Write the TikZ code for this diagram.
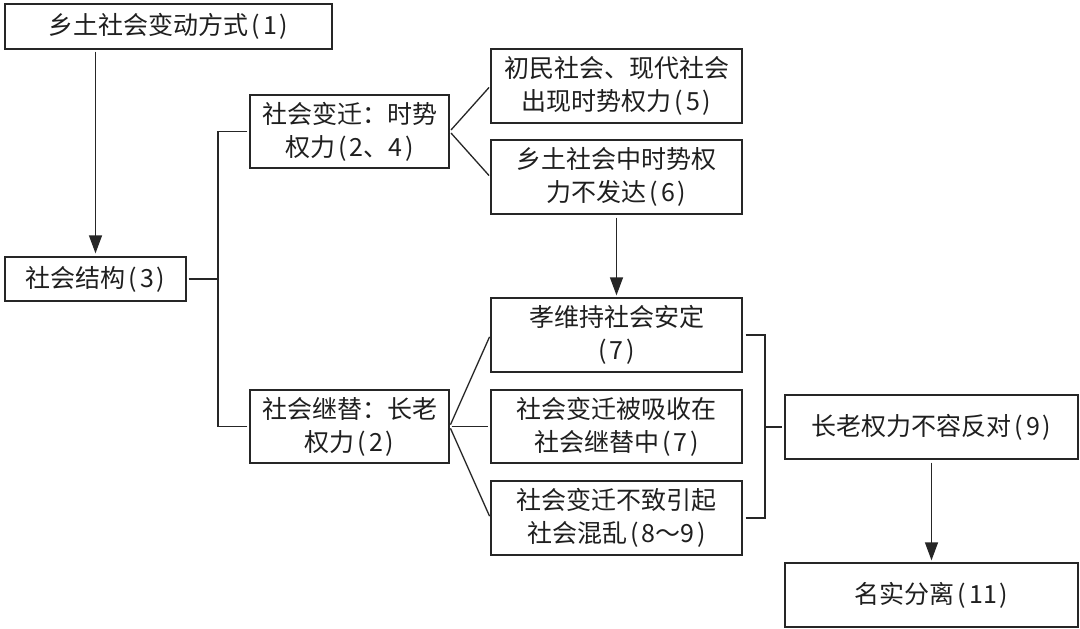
\documentclass[tikz,border=0pt]{standalone}
\usepackage{fontspec}
\setmainfont{Noto Sans CJK SC}
\usetikzlibrary{arrows.meta,calc}
\definecolor{ln}{HTML}{262626}
\newcommand{\pr}[1]{\hspace{3pt}(\hspace{3pt}#1\hspace{3pt})}
\tikzset{
  box/.style={draw=ln, line width=1.3pt, rectangle, inner sep=0pt, align=center,
    font=\fontsize{25}{33}\selectfont, text=black!88},
  conn/.style={draw=ln, line width=1.3pt},
  arr/.style={conn, -{Triangle[width=13pt,length=18pt]}}
}
\begin{document}
\begin{tikzpicture}[x=1pt,y=-1pt]
\useasboundingbox[fill=white] (0,0) rectangle (1080,629);
\node[box, minimum width=327pt, minimum height=45pt] (b1) at (168.5,26.5) {乡土社会变动方式\pr{1}};
\node[box, minimum width=181pt, minimum height=44pt] (b3) at (95.5,279) {社会结构\pr{3}};
\node[box, minimum width=199pt, minimum height=73pt] (b2a) at (349.5,131.5) {社会变迁：时势\\权力\pr{2、4}};
\node[box, minimum width=199pt, minimum height=73pt] (b2b) at (349.5,426.5) {社会继替：长老\\权力\pr{2}};
\node[box, minimum width=251pt, minimum height=74pt] (b5) at (616.5,86) {初民社会、现代社会\\出现时势权力\pr{5}};
\node[box, minimum width=251pt, minimum height=74pt] (b6) at (616.5,177) {乡土社会中时势权\\力不发达\pr{6}};
\node[box, minimum width=251pt, minimum height=74pt] (b7) at (616.5,335) {孝维持社会安定\\(\hspace{3pt}7\hspace{3pt})};
\node[box, minimum width=251pt, minimum height=73pt] (b7b) at (616.5,426.5) {社会变迁被吸收在\\社会继替中\pr{7}};
\node[box, minimum width=251pt, minimum height=74pt] (b8) at (616.5,518) {社会变迁不致引起\\社会混乱\pr{8～9}};
\node[box, minimum width=293pt, minimum height=64pt] (b9) at (931.5,427) {长老权力不容反对\pr{9}};
\node[box, minimum width=293pt, minimum height=64pt] (b11) at (931.5,595) {名实分离\pr{11}};
\coordinate (j) at (218,279);
\coordinate (k) at (765,427);
\draw[arr, shorten <=2pt, shorten >=3pt] (b1.south -| b3.north) -- (b3.north);
\draw[conn, shorten <=2pt] (b3.east) -- (j);
\draw[conn, shorten <=2pt] (b2a.west) -| (j);
\draw[conn, shorten <=2pt] (b2b.west) -| (j);
\draw[conn, shorten <=2pt, shorten >=2pt] (b2a.east) -- (b5.west);
\draw[conn, shorten <=2pt, shorten >=2pt] (b2a.east) -- (b6.west);
\draw[arr, shorten <=3pt, shorten >=2pt] (b6.south) -- (b7.north);
\draw[conn, shorten <=2pt, shorten >=2pt] (b2b.east) -- (b7.west);
\draw[conn, shorten <=2pt, shorten >=2pt] (b2b.east) -- (b7b.west);
\draw[conn, shorten <=2pt, shorten >=2pt] (b2b.east) -- (b8.west);
\draw[conn, shorten <=3pt] (b7.east) -| (k);
\draw[conn, shorten <=3pt] (b8.east) -| (k);
\draw[conn, shorten >=2pt] (k) -- (b9.west);
\draw[arr, shorten <=3pt, shorten >=2pt] (b9.south) -- (b11.north);
\end{tikzpicture}
\end{document}
